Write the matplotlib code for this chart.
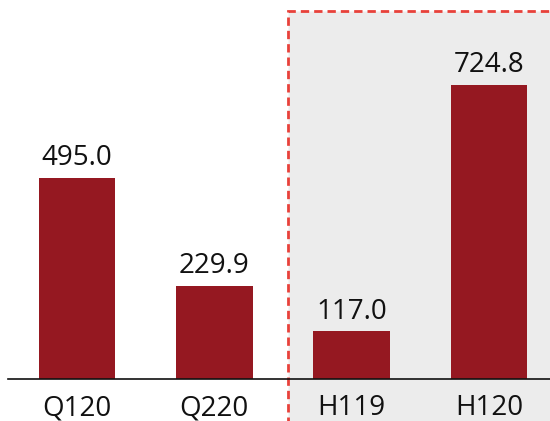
import matplotlib
matplotlib.use("Agg")
import matplotlib.pyplot as plt
from matplotlib.patches import Rectangle

categories = ["Q120", "Q220", "H119", "H120"]
values = [495.0, 229.9, 117.0, 724.8]
value_labels = ["495.0", "229.9", "117.0", "724.8"]

bar_color = "#951821"
shade_color = "#ececec"
dash_color = "#e8413a"

plt.rcParams["font.family"] = ["Open Sans", "DejaVu Sans"]

fig = plt.figure(figsize=(5.5, 4.21), dpi=100)
ax = fig.add_axes([8 / 550, 42 / 421, 542 / 550, 379 / 421])

x = list(range(len(categories)))
ax.bar(x, values, width=0.557, color=bar_color, zorder=3)

for xi, v, lab in zip(x, values, value_labels):
    ax.annotate(lab, (xi, v), xytext=(0, 4), textcoords="offset points",
                ha="center", va="bottom", fontsize=20, color="#111111", zorder=4)

# shaded half-year region with dashed border
shade = Rectangle((1.54, -300), 3.0, 1206, facecolor=shade_color,
                  edgecolor=dash_color, linestyle=(0, (3, 1.8)), linewidth=2.0,
                  zorder=1, clip_on=False)
ax.add_patch(shade)

ax.set_xlim(-0.5025, 3.445)
ax.set_ylim(0, 933)

ax.set_xticks(x)
ax.set_xticklabels(categories, fontsize=20, color="#111111")
ax.tick_params(axis="x", length=0, pad=11)
ax.set_yticks([])

for s in ["top", "right", "left"]:
    ax.spines[s].set_visible(False)
ax.spines["bottom"].set_linewidth(1.2)
ax.spines["bottom"].set_color("#111111")
ax.spines["bottom"].set_zorder(5)
ax.patch.set_alpha(0)

fig.savefig("out.png", dpi=100)
